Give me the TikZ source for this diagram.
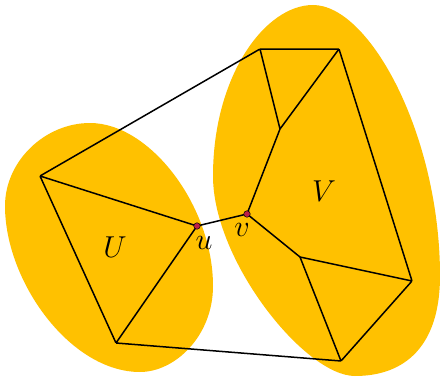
\documentclass[tikz,border=0pt]{standalone}
\begin{document}
\begin{tikzpicture}[x=1pt,y=1pt,
  blob/.style={fill={rgb,255:red,255;green,193;blue,0}, draw=none},
  edge/.style={line width=1.5pt, black},
  vtx/.style={circle, inner sep=0pt, minimum size=6.5pt, fill={rgb,255:red,190;green,30;blue,70}, draw=black, line width=0.5pt},
  pt/.style={inner sep=0pt, minimum size=0pt},
  lbl/.style={font=\LARGE, inner sep=0pt}]
\useasboundingbox (0,0) rectangle (440,376);
\fill[white] (0,0) rectangle (440,376);
% U blob
\fill[blob] (90,253) .. controls (150,253) and (213,170) .. (213,90)
  .. controls (213,40) and (175,4) .. (140,4)
  .. controls (70,4) and (5,95) .. (5,170)
  .. controls (5,215) and (45,253) .. (90,253) -- cycle;
% V blob
\fill[blob] (313,371) .. controls (370,371) and (440,240) .. (440,100)
  .. controls (440,30) and (405,0) .. (355,0)
  .. controls (305,0) and (213,115) .. (213,200)
  .. controls (213,300) and (265,371) .. (313,371) -- cycle;
\node[pt] (a1) at (40,200) {};
\node[pt] (a3) at (116,33) {};
\node[pt] (b1) at (260,327) {};
\node[pt] (b2) at (339,327) {};
\node[pt] (b3) at (280,247) {};
\node[pt] (b5) at (300,119) {};
\node[pt] (b6) at (412,95) {};
\node[pt] (b7) at (341,15) {};
\coordinate (u) at (197,150);
\coordinate (v) at (247,162);
\draw[edge, line join=round] (a1) -- (b1) (a1) -- (u) (a1) -- (a3) (u) -- (a3) (a3) -- (b7)
  (u) -- (v) (b1) -- (b2) (b1) -- (b3) (b2) -- (b3) (b3) -- (v)
  (b2) -- (b6) (v) -- (b5) (b5) -- (b6) (b5) -- (b7) (b6) -- (b7);
\node[vtx] (un) at (u) {};
\node[vtx] (vn) at (v) {};
\node[lbl] (U) at (115,129) {\scalebox{1.75}{$U$}};
\node[lbl] (V) at (324,185) {\scalebox{1.75}{$V$}};
\node[lbl] (ul) at (204,133) {\scalebox{1.75}{$u$}};
\node[lbl] (vl) at (242,146) {\scalebox{1.75}{$v$}};
\end{tikzpicture}
\end{document}
